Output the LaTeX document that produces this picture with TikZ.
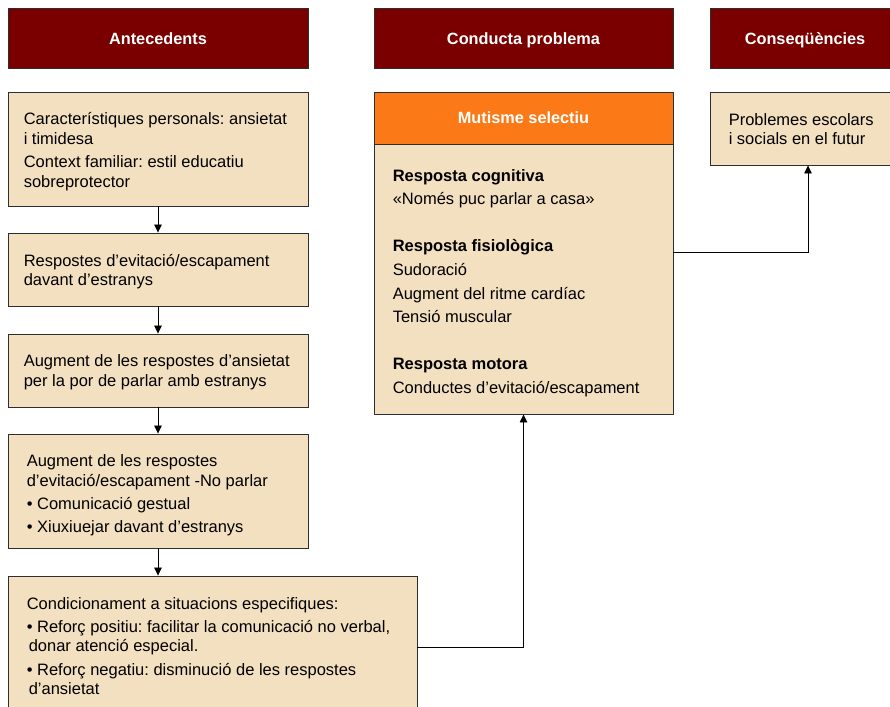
\documentclass[tikz,border=0pt]{standalone}
\usepackage{fontspec}
\setmainfont{Liberation Sans}
\usetikzlibrary{arrows.meta,calc}
\definecolor{hdr}{HTML}{7A0000}
\definecolor{tanc}{HTML}{F3E0C0}
\definecolor{orng}{HTML}{FB7A17}
\definecolor{bord}{HTML}{2E2E2E}
\frenchspacing
\begin{document}
\begin{tikzpicture}[x=1pt,y=-1pt,
 hdrbox/.style={draw=bord, line width=0.9pt, fill=hdr, text=white, font=\fontsize{16.3}{19}\selectfont\bfseries, minimum height=60pt, inner sep=0pt, text height=11.7pt, text depth=0pt},
 cell/.style={draw=bord, line width=0.9pt, fill=tanc, inner sep=0pt},
 txt/.style={font=\fontsize{16.5}{19.6}\selectfont, align=left, inner sep=0pt, anchor=west},
 arr/.style={draw=black, line width=0.8pt, -{Triangle[length=8pt,width=7.5pt]}}
]
\useasboundingbox (0,0) rectangle (890,706);
\clip (0,0) rectangle (890,706);
\fill[white] (0,0) rectangle (890,706);
% headers
\node[hdrbox, minimum width=300pt] (hA) at (158,38.5) {Antecedents};
\node[hdrbox, minimum width=299pt] (hC) at (523.5,38.5) {Conducta problema};
\node[hdrbox, minimum width=196pt] (hQ) at (808,38.5) {\hspace*{-6pt}Conseqüències};
% antecedents boxes
\node[cell, minimum width=300pt, minimum height=114pt] (b1) at (158,149) {};
\node[cell, minimum width=300pt, minimum height=73pt] (b2) at (158,269.5) {};
\node[cell, minimum width=300pt, minimum height=73pt] (b3) at (158,370.5) {};
\node[cell, minimum width=300pt, minimum height=114pt] (b4) at (158,491) {};
\node[cell, minimum width=409pt, minimum height=140pt] (b5) at (212.5,646) {};
% texts
\node[txt] (t1) at ([xshift=16pt,yshift=-2.5pt]b1.west)
 {Característiques personals: ansietat\\ i timidesa\\[4pt] Context familiar: estil educatiu\\ sobreprotector};
\node[txt] (t2) at ([xshift=16pt,yshift=-2pt]b2.west)
 {Respostes d’evitació/escapament\\ davant d’estranys};
\node[txt] (t3) at ([xshift=16pt,yshift=-2pt]b3.west)
 {Augment de les respostes d’ansietat\\ per la por de parlar amb estranys};
\node[txt] (t4) at ([xshift=19pt,yshift=-4.5pt]b4.west)
 {Augment de les respostes\\ d’evitació/escapament -No parlar\\[3.5pt] • Comunicació gestual\\[3.5pt] • Xiuxiuejar davant d’estranys};
\node[txt] (t5) at ([xshift=19pt,yshift=0pt]b5.west)
 {Condicionament a situacions especifiques:\\[3.5pt] • Reforç positiu: facilitar la comunicació no verbal,\\ \hspace*{2pt}donar atenció especial.\\[3.5pt] • Reforç negatiu: disminució de les respostes\\ \hspace*{2pt}d’ansietat};
% conducta problema
\node[hdrbox, fill=orng, minimum width=299pt, minimum height=52pt] (mh) at (523.5,118) {Mutisme selectiu};
\node[cell, minimum width=299pt, minimum height=270pt] (mb) at (523.5,279) {};
\node[txt] (tm) at ([xshift=19pt,yshift=-4pt]mb.west)
 {\textbf{Resposta cognitiva}\\[4pt] «Només puc parlar a casa»\\[27.5pt]
  \textbf{Resposta fisiològica}\\[4pt] Sudoració\\[4pt] Augment del ritme cardíac\\[4pt] Tensió muscular\\[27.5pt]
  \textbf{Resposta motora}\\[4pt] Conductes d’evitació/escapament};
% consequencies
\node[cell, minimum width=196pt, minimum height=73pt] (pr) at (808,128.5) {};
\node[txt] (tp) at ([xshift=19pt,yshift=-0.5pt]pr.west)
 {Problemes escolars\\ i socials en el futur};
% connectors
\draw[arr] (b1.south) -- (b2.north);
\draw[arr] (b2.south) -- (b3.north);
\draw[arr] (b3.south) -- (b4.north);
\draw[arr] (b4.south) -- (b4.south |- b5.north);
\draw[arr] ([yshift=-1pt]b5.east) -| (mb.south);
\draw[arr] ([yshift=27pt]mb.east) -| (pr.south);
\end{tikzpicture}
\end{document}
